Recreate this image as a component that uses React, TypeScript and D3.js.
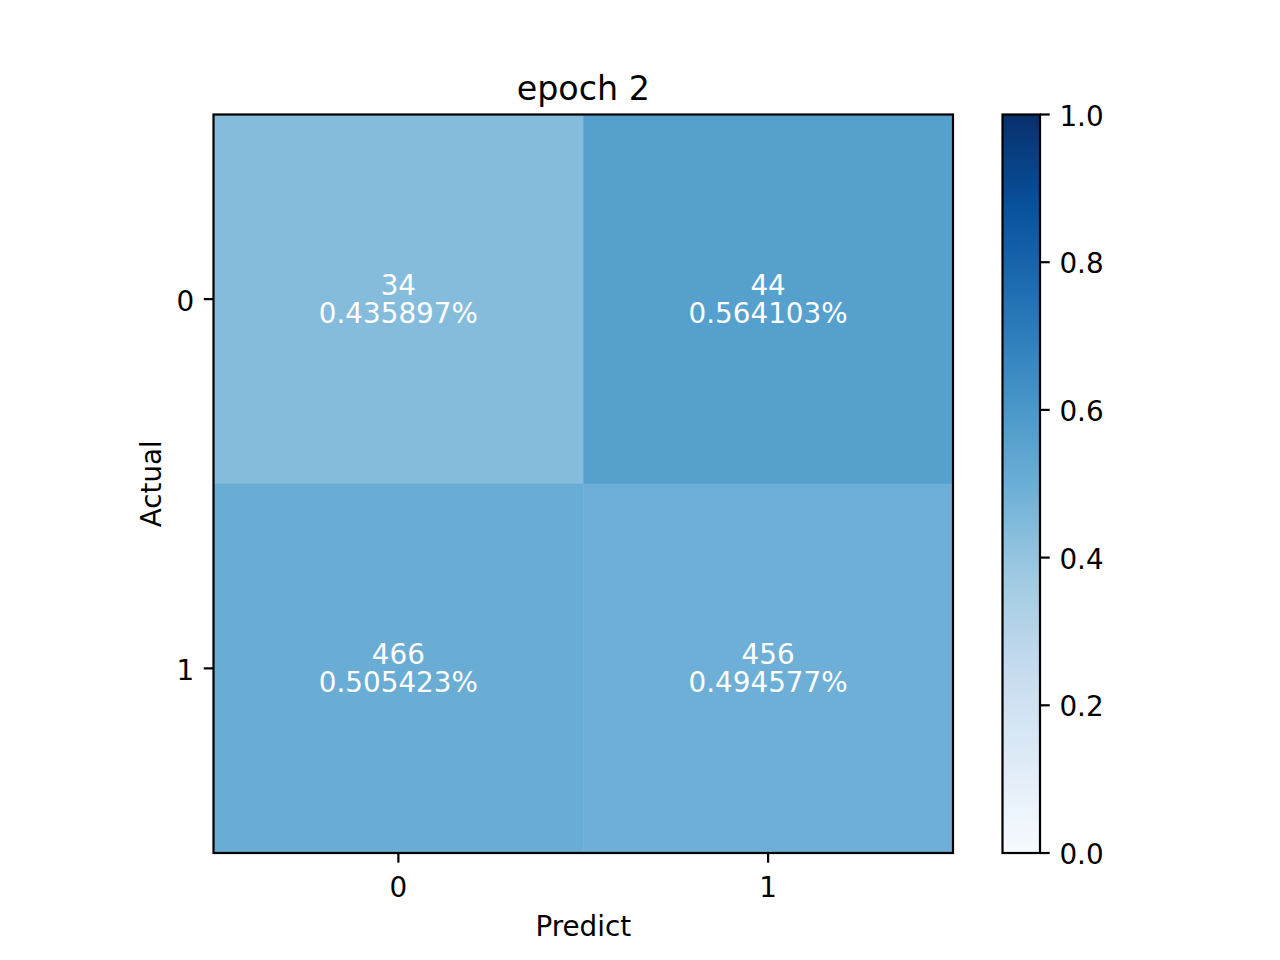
import * as d3 from "d3";
import { useMemo } from "react";

const title = "epoch 2";
const actualLabels = ["0", "1"];
const predictLabels = ["0", "1"];
const counts = [
  [34, 44],
  [466, 456],
];
const ratios = [
  [0.435897, 0.564103],
  [0.505423, 0.494577],
];
const colorbarTicks = [0, 0.2, 0.4, 0.6, 0.8, 1.0];

// matplotlib "Blues"
const bluesStops = ["#f7fbff", "#deebf7", "#c6dbef", "#9ecae1", "#6baed6", "#4292c6", "#2171b5", "#08519c", "#08306b"];

const W = 1280;
const H = 960;
const left = 213.5;
const right = 953;
const top = 114.5;
const bottom = 853;
const cbLeft = 1002.5;
const cbRight = 1040;
const font = "DejaVu Sans, sans-serif";
const fs = 27.8;
const tick = 9.7;
const lw = 2.2;

export default function App() {
  const color = useMemo(
    () =>
      d3
        .scaleLinear<string>()
        .domain(bluesStops.map((_, i) => i / (bluesStops.length - 1)))
        .range(bluesStops)
        .interpolate(d3.interpolateRgb)
        .clamp(true),
    []
  );

  const x = d3.scaleBand().domain(predictLabels).range([left, right]);
  const y = d3.scaleBand().domain(actualLabels).range([top, bottom]);
  const cb = d3.scaleLinear().domain([0, 1]).range([bottom, top]);

  const gradStops = d3.range(0, 1.0001, 0.02);

  return (
    <div style={{ position: "absolute", left: 0, top: 0 }}>
      <svg width={W} height={H} viewBox={`0 0 ${W} ${H}`} style={{ display: "block", fontFamily: font }}>
        <defs>
          <linearGradient id="cbgrad" x1="0" y1="1" x2="0" y2="0">
            {gradStops.map((t) => (
              <stop key={t} offset={t} stopColor={color(t)} />
            ))}
          </linearGradient>
        </defs>
        <rect width={W} height={H} fill="#fff" />

        {/* cells */}
        {actualLabels.map((a, i) =>
          predictLabels.map((p, j) => (
            <rect
              key={`${i}-${j}`}
              x={x(p)}
              y={y(a)}
              width={x.bandwidth() + 0.5}
              height={y.bandwidth() + 0.5}
              fill={color(ratios[i][j])}
            />
          ))
        )}
        {actualLabels.map((a, i) =>
          predictLabels.map((p, j) => {
            const cx = (x(p) ?? 0) + x.bandwidth() / 2;
            const cy = (y(a) ?? 0) + y.bandwidth() / 2;
            return (
              <g key={`t${i}-${j}`} fill="#fff" fontSize={fs} textAnchor="middle">
                <text x={cx} y={cy - 4}>{counts[i][j]}</text>
                <text x={cx} y={cy + 23.5}>{ratios[i][j].toFixed(6)}%</text>
              </g>
            );
          })
        )}
        <rect x={left} y={top} width={right - left} height={bottom - top} fill="none" stroke="#000" strokeWidth={lw} />

        {/* x ticks */}
        {predictLabels.map((p) => {
          const cx = (x(p) ?? 0) + x.bandwidth() / 2;
          return (
            <g key={`xt${p}`}>
              <line x1={cx} x2={cx} y1={bottom} y2={bottom + tick} stroke="#000" strokeWidth={lw} />
              <text x={cx} y={896.5} fontSize={fs} textAnchor="middle">{p}</text>
            </g>
          );
        })}
        {/* y ticks */}
        {actualLabels.map((a) => {
          const cy = (y(a) ?? 0) + y.bandwidth() / 2;
          return (
            <g key={`yt${a}`}>
              <line x1={left - tick} x2={left} y1={cy} y2={cy} stroke="#000" strokeWidth={lw} />
              <text x={left - tick - 9.7} y={cy + 11.5} fontSize={fs} textAnchor="end">{a}</text>
            </g>
          );
        })}

        <text x={(left + right) / 2} y={100} fontSize={33.3} textAnchor="middle">{title}</text>
        <text x={(left + right) / 2} y={936} fontSize={fs} textAnchor="middle">Predict</text>
        <text transform={`translate(161, ${(top + bottom) / 2}) rotate(-90)`} fontSize={fs} textAnchor="middle">Actual</text>

        {/* colorbar */}
        <rect x={cbLeft} y={top} width={cbRight - cbLeft} height={bottom - top} fill="url(#cbgrad)" stroke="#000" strokeWidth={lw} />
        {colorbarTicks.map((t) => (
          <g key={`cb${t}`}>
            <line x1={cbRight} x2={cbRight + tick} y1={cb(t)} y2={cb(t)} stroke="#000" strokeWidth={lw} />
            <text x={cbRight + tick + 9.7} y={cb(t) + 11} fontSize={fs}>{t.toFixed(1)}</text>
          </g>
        ))}
      </svg>
    </div>
  );
}
